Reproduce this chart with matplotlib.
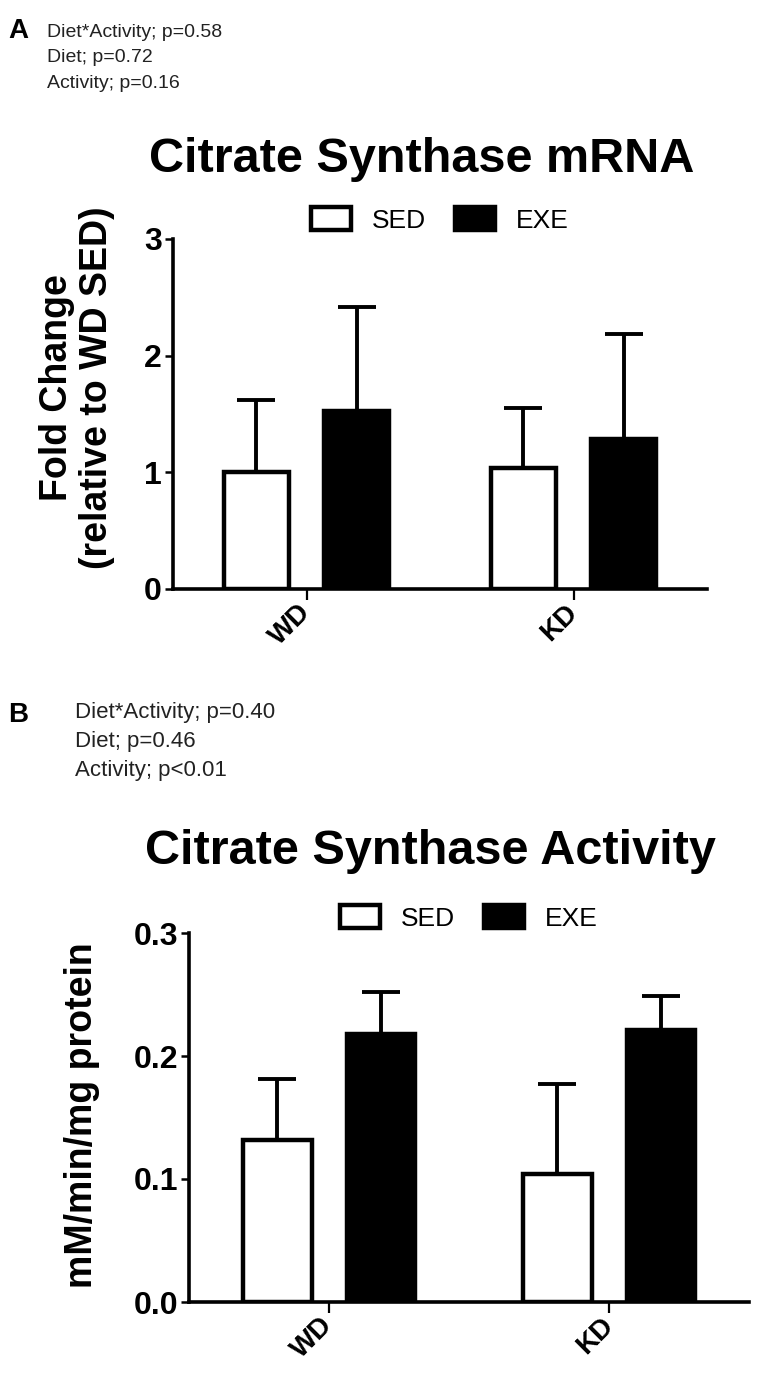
import numpy as np
import matplotlib
matplotlib.use("Agg")
import matplotlib.pyplot as plt

plt.rcParams['font.family'] = ['Liberation Sans', 'DejaVu Sans']

groups = ['WD', 'KD']
series = ['SED', 'EXE']

# panel A: citrate synthase mRNA (fold change), mean and upper SD
mrna_sed = [1.00, 1.04]
mrna_sed_err = [0.62, 0.51]
mrna_exe = [1.53, 1.29]
mrna_exe_err = [0.89, 0.90]

# panel B: citrate synthase activity (mM/min/mg protein)
act_sed = [0.132, 0.104]
act_sed_err = [0.049, 0.073]
act_exe = [0.218, 0.221]
act_exe_err = [0.034, 0.028]

stats_a = ['Diet*Activity; p=0.58', 'Diet; p=0.72', 'Activity; p=0.16']
stats_b = ['Diet*Activity; p=0.40', 'Diet; p=0.46', 'Activity; p<0.01']

W, H = 758, 1393
fig = plt.figure(figsize=(W / 100, H / 100), dpi=100)


def rect(left, top, right, bottom):
    return [left / W, 1 - bottom / H, (right - left) / W, (bottom - top) / H]


def px(x, y):
    return x / W, 1 - y / H


def panel(ax, sed, sed_err, exe, exe_err, ymax, yticks, fmt, off):
    x = np.arange(len(groups))
    width = 0.245
    ekw = dict(elinewidth=2.8, capsize=14, capthick=2.8, ecolor='black')
    b1 = ax.bar(x - off, sed, width, color='white', edgecolor='black', linewidth=3.2,
                yerr=[np.zeros(len(sed)), sed_err], error_kw=ekw, label=series[0])
    b2 = ax.bar(x + off, exe, width, color='black', edgecolor='black', linewidth=3.2,
                yerr=[np.zeros(len(exe)), exe_err], error_kw=ekw, label=series[1])
    ax.set_xlim(-0.5, 1.5)
    ax.set_ylim(0, ymax)
    ax.set_yticks(yticks)
    ax.set_yticklabels([fmt % t for t in yticks], fontsize=23, fontweight='bold')
    ax.set_xticks(x)
    ax.set_xticklabels(groups, rotation=45, ha='right', va='center',
                       rotation_mode='anchor', fontsize=20, fontweight='bold')
    for s in ['top', 'right']:
        ax.spines[s].set_visible(False)
    for s in ['left', 'bottom']:
        ax.spines[s].set_linewidth(2.6)
    ax.tick_params(axis='y', length=6, width=1.8, pad=2)
    ax.tick_params(axis='x', length=8, width=1.6, pad=6)
    return b1, b2


axA = fig.add_axes(rect(173, 239, 707, 589))
hA = panel(axA, mrna_sed, mrna_sed_err, mrna_exe, mrna_exe_err, 3,
           [0, 1, 2, 3], '%d', 0.188)
axB = fig.add_axes(rect(189, 933, 749, 1302))
hB = panel(axB, act_sed, act_sed_err, act_exe, act_exe_err, 0.3,
           [0.0, 0.1, 0.2, 0.3], '%.1f', 0.185)

# legends
for handles, cx, cy in [(hA, 440, 220), (hB, 469, 918)]:
    fig.legend(handles, series, loc='center', bbox_to_anchor=px(cx, cy), ncol=2,
               frameon=False, fontsize=19, handlelength=1.5, handleheight=0.96,
               handletextpad=0.8, columnspacing=1.1, borderpad=0, borderaxespad=0)

# titles
fig.text(*px(422, 172), 'Citrate Synthase mRNA', ha='center', va='baseline',
         fontsize=35, fontweight='bold')
fig.text(*px(430, 864), 'Citrate Synthase Activity', ha='center', va='baseline',
         fontsize=35, fontweight='bold')

# y labels
fig.text(*px(77, 388), 'Fold Change\n(relative to WD SED)', rotation=90,
         ha='center', va='center', multialignment='center',
         fontsize=27, fontweight='bold', linespacing=1.15)
fig.text(*px(82, 1115), 'mM/min/mg protein', rotation=90,
         ha='center', va='center', fontsize=27, fontweight='bold')

# panel letters and stats
fig.text(*px(8, 38), 'A', fontsize=20, fontweight='bold', va='baseline')
for i, s in enumerate(stats_a):
    fig.text(*px(47, 37 + 25.5 * i), s, fontsize=14, va='baseline', color='#222222')
fig.text(*px(8, 722), 'B', fontsize=20, fontweight='bold', va='baseline')
for i, s in enumerate(stats_b):
    fig.text(*px(75, 718 + 29 * i), s, fontsize=16, va='baseline', color='#222222')

fig.savefig('out.png', dpi=100, facecolor='white')
